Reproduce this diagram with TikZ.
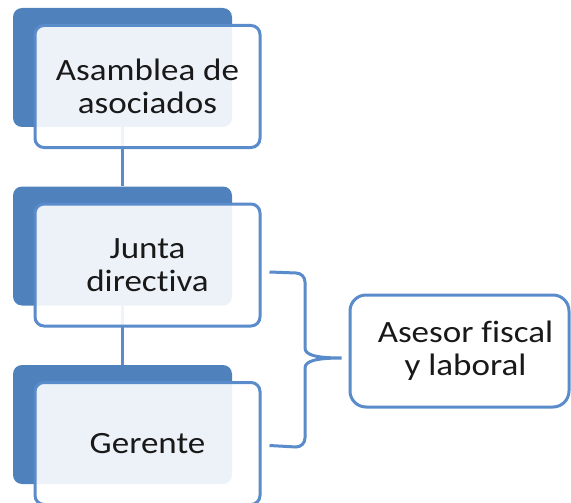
\documentclass[tikz,border=0pt]{standalone}
\usepackage{fontspec}
\setmainfont{Carlito}[FakeStretch=1.13,Ligatures=NoCommon]
\usetikzlibrary{positioning}
\definecolor{orgblue}{HTML}{4F81BD}
\definecolor{linkblue}{HTML}{5A8BCA}

\begin{document}
\begin{tikzpicture}[
		x=1pt,y=1pt,
		back/.style={
			rectangle,
			rounded corners=9pt,
			fill=orgblue,
			minimum width=219pt,
			minimum height=119pt,
			inner sep=0pt,
		},
		front/.style={
			rectangle,
			rounded corners=9pt,
			draw=linkblue,
			line width=3pt,
			fill=white,
			fill opacity=0.9,
			text opacity=1,
			text=black!90,
			minimum width=225pt,
			minimum height=122pt,
			inner sep=0pt,
			align=center,
		},
		link/.style={
			draw=linkblue,
			line width=3pt,
		},
		font=\fontsize{31}{33}\selectfont,
		]
		\useasboundingbox (0,0) rectangle (571,-503);
		% Draw the back boxes
		\foreach \i/\y in {1/-67.5,2/-246,3/-424.5} {
			\node [back] (back\i) at (122.5,\y) {};
		}
		% Draw the vertical links
		\draw[link] (back1) -- (back2);
		\draw[link] (back2) -- (back3);
		% Draw the front boxes and labels
		\foreach \i/\txt in {1/{Asamblea de\\asociados},2/{Junta\\directiva},3/{Gerente}} {
			\node [front] (front\i) at ([shift={(25,-19)}]back\i.center) {\txt};
		}
		% Draw the adviser box
		\node [front,rounded corners=16pt,fill opacity=1,minimum width=219pt,minimum height=112pt] (asesor) at (459.5,-351) {\hspace*{12pt}Asesor fiscal\\\hspace*{12pt}y laboral};
		% Draw the bracket
		\coordinate (btop) at ([shift={(8,-7)}]front2.east);
		\coordinate (bbot) at ([shift={(8,-2)}]front3.east);
		\coordinate (btip) at ([shift={(-7,-7)}]asesor.west);
		\draw[link] (btop) -- (296,-273) to[out=0,in=90] (305,-282) -- (305,-348)
			.. controls (305,-355) and (316,-358) .. (btip)
			.. controls (316,-358) and (305,-361) .. (305,-368) -- (305,-438)
			to[out=-90,in=0] (296,-447) -- (bbot);
	\end{tikzpicture}
\end{document}
